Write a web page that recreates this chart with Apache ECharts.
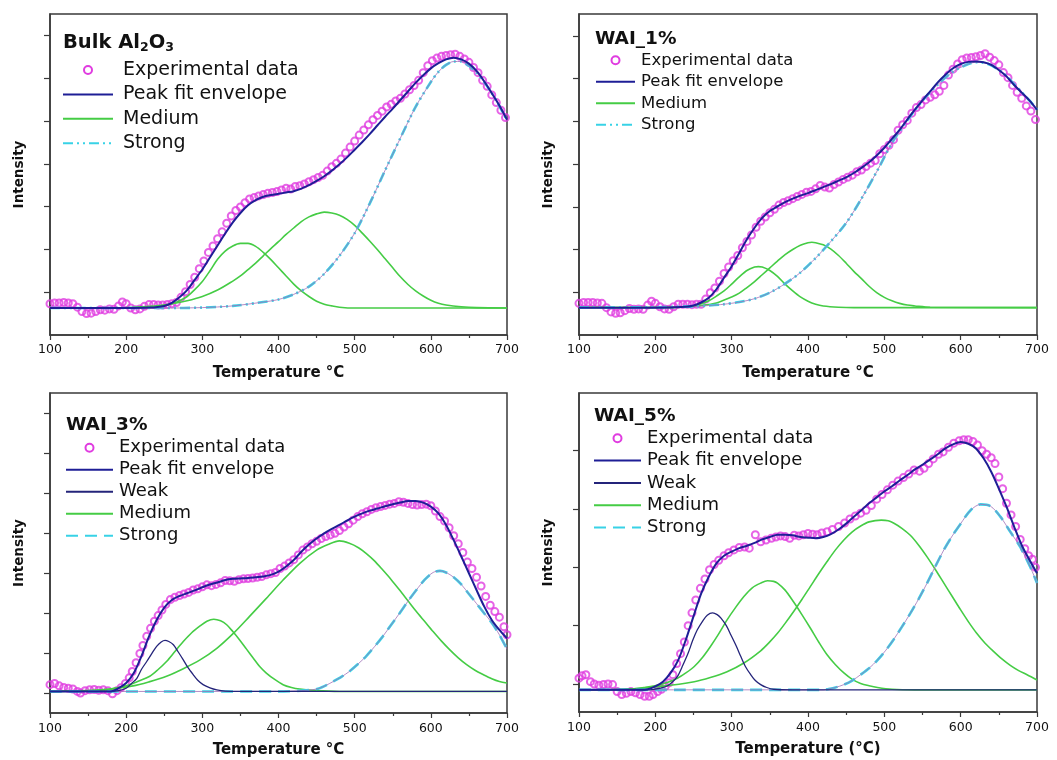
<!DOCTYPE html>
<html><head><meta charset="utf-8">
<script src="https://cdn.jsdelivr.net/npm/echarts@6/dist/echarts.min.js"></script>
<style>html,body{margin:0;padding:0;background:#fff}#c{width:1057px;height:760px}</style>
</head><body><div id="c"></div>
<script>
// ---------------- DATA (temperature °C, intensity in arbitrary units) ----------------
const xTicks = [100, 200, 300, 400, 500, 600, 700];
const panelTitles = ['Bulk Al2O3', 'WAI_1%', 'WAI_3%', 'WAI_5%'];
const xAxisNames = ['Temperature °C', 'Temperature °C', 'Temperature °C', 'Temperature (°C)'];
const legendNames = ['Experimental data', 'Peak fit envelope', 'Weak', 'Medium', 'Strong'];

// unlabeled y tick positions (arbitrary intensity units)
const p1YTicks = [0.37, 1.37, 2.37, 3.37, 4.37, 5.37, 6.37];
const p2YTicks = [0.36, 1.36, 2.36, 3.36, 4.36, 5.36, 6.36];
const p3YTicks = [-0.04, 0.96, 1.96, 2.96, 3.96, 4.96, 5.96, 6.96];
const p4YTicks = [0.1, 1.1, 2.1, 3.1, 4.1];

// ---- Bulk Al2O3 ----
const p1Exp = [[100,0.1],[106,0.12],[112,0.12],[118,0.13],[124,0.12],[130,0.1],[136,0.02],[142,-0.08],[148,-0.13],[154,-0.12],[160,-0.08],[166,-0.04],[172,-0.05],[178,-0.02],[184,-0.03],[190,0.05],[195,0.14],[200,0.1],[206,0.0],[212,-0.04],[218,-0.02],[224,0.04],[230,0.08],[236,0.08],[242,0.07],[248,0.07],[254,0.08],[260,0.1],[266,0.13],[272,0.25],[278,0.38],[284,0.55],[290,0.72],[296,0.92],[302,1.1],[308,1.3],[314,1.45],[320,1.62],[326,1.78],[332,1.98],[338,2.15],[344,2.28],[350,2.36],[356,2.46],[362,2.55],[368,2.58],[374,2.62],[380,2.65],[386,2.68],[392,2.7],[398,2.72],[404,2.76],[410,2.8],[416,2.78],[422,2.84],[428,2.86],[434,2.9],[440,2.95],[446,3.0],[452,3.05],[458,3.1],[464,3.2],[470,3.3],[476,3.38],[482,3.48],[488,3.62],[494,3.76],[500,3.9],[506,4.04],[512,4.16],[518,4.28],[524,4.4],[530,4.5],[536,4.6],[542,4.7],[548,4.76],[554,4.84],[560,4.9],[566,5.0],[572,5.1],[578,5.2],[584,5.32],[590,5.5],[596,5.66],[602,5.78],[608,5.84],[614,5.88],[620,5.9],[626,5.92],[632,5.93],[638,5.88],[644,5.82],[650,5.74],[656,5.62],[662,5.5],[668,5.32],[674,5.18],[680,4.98],[686,4.8],[692,4.62],[698,4.45]];
const p1Envelope = [[100,0],[200,0],[230,0.01],[250,0.05],[260,0.12],[270,0.25],[280,0.42],[290,0.66],[300,0.9],[310,1.18],[320,1.46],[330,1.74],[340,2.0],[350,2.22],[360,2.4],[370,2.52],[380,2.6],[390,2.64],[400,2.67],[410,2.7],[420,2.73],[430,2.79],[440,2.87],[450,2.97],[460,3.08],[470,3.21],[480,3.36],[490,3.52],[500,3.7],[510,3.88],[520,4.07],[530,4.27],[540,4.47],[550,4.66],[560,4.86],[570,5.06],[580,5.26],[590,5.44],[600,5.6],[610,5.72],[620,5.81],[630,5.85],[640,5.81],[650,5.71],[660,5.54],[670,5.3],[680,5.02],[690,4.73],[700,4.4]];
const p1Medium1 = [[100,0],[200,0],[230,0.01],[250,0.06],[260,0.1],[270,0.17],[280,0.27],[290,0.43],[300,0.62],[310,0.87],[320,1.14],[330,1.33],[340,1.45],[350,1.51],[360,1.51],[370,1.44],[380,1.3],[390,1.13],[400,0.94],[410,0.75],[420,0.56],[430,0.4],[440,0.27],[450,0.16],[460,0.09],[470,0.05],[480,0.02],[500,0],[700,0]];
const p1Medium2 = [[100,0],[200,0.01],[220,0.03],[240,0.05],[260,0.1],[280,0.17],[300,0.27],[320,0.42],[340,0.63],[350,0.75],[360,0.9],[370,1.05],[380,1.22],[390,1.39],[400,1.55],[410,1.72],[420,1.87],[430,2.02],[440,2.13],[450,2.2],[460,2.24],[470,2.22],[480,2.17],[490,2.07],[500,1.93],[510,1.75],[520,1.56],[530,1.36],[540,1.15],[550,0.94],[560,0.73],[570,0.55],[580,0.4],[590,0.28],[600,0.18],[610,0.11],[620,0.07],[640,0.03],[660,0.01],[700,0]];
const p1Strong = [[100,0],[250,0],[300,0.01],[340,0.05],[380,0.14],[400,0.2],[420,0.32],[440,0.5],[460,0.8],[480,1.22],[500,1.75],[520,2.45],[540,3.22],[560,3.97],[580,4.7],[600,5.28],[610,5.52],[620,5.68],[630,5.76],[640,5.76],[650,5.66],[660,5.5],[670,5.28],[680,5.02],[690,4.72],[700,4.38]];

// ---- WAI_1% ----
const p2Exp = [[100,0.1],[106,0.12],[112,0.12],[118,0.12],[124,0.11],[130,0.1],[136,0.0],[142,-0.1],[148,-0.13],[154,-0.12],[160,-0.07],[166,-0.02],[172,-0.04],[178,-0.03],[184,-0.04],[190,0.06],[195,0.15],[200,0.1],[206,0.02],[212,-0.03],[218,-0.04],[224,0.02],[230,0.08],[236,0.08],[242,0.08],[248,0.07],[254,0.08],[260,0.08],[266,0.2],[272,0.35],[278,0.46],[284,0.62],[290,0.8],[296,0.95],[302,1.1],[308,1.22],[314,1.4],[320,1.55],[326,1.7],[332,1.88],[338,2.02],[344,2.12],[350,2.22],[356,2.3],[362,2.4],[368,2.46],[374,2.5],[380,2.55],[386,2.6],[392,2.65],[398,2.7],[404,2.72],[410,2.78],[416,2.86],[422,2.82],[428,2.8],[434,2.88],[440,2.94],[446,3.0],[452,3.05],[458,3.1],[464,3.18],[470,3.22],[476,3.3],[482,3.38],[488,3.44],[494,3.6],[500,3.7],[506,3.8],[512,3.93],[518,4.15],[524,4.28],[530,4.38],[536,4.55],[542,4.68],[548,4.75],[554,4.86],[560,4.92],[566,4.98],[572,5.06],[578,5.2],[584,5.44],[590,5.58],[596,5.7],[602,5.8],[608,5.84],[614,5.85],[620,5.87],[626,5.9],[632,5.94],[638,5.86],[644,5.78],[650,5.68],[656,5.5],[662,5.38],[668,5.2],[674,5.04],[680,4.9],[686,4.72],[692,4.6],[698,4.4]];
const p2Envelope = [[100,0],[200,0],[240,0.02],[250,0.05],[260,0.12],[270,0.23],[280,0.43],[290,0.7],[300,0.97],[310,1.28],[320,1.6],[330,1.87],[340,2.1],[350,2.26],[360,2.37],[370,2.47],[380,2.55],[390,2.62],[400,2.68],[410,2.75],[420,2.82],[430,2.89],[440,2.97],[450,3.05],[460,3.15],[470,3.27],[480,3.4],[490,3.56],[500,3.74],[510,3.95],[520,4.16],[530,4.4],[540,4.63],[550,4.85],[560,5.06],[570,5.27],[580,5.45],[590,5.6],[600,5.7],[610,5.75],[620,5.76],[630,5.74],[640,5.68],[650,5.56],[660,5.41],[670,5.21],[680,5.03],[690,4.85],[700,4.63]];
const p2Medium1 = [[100,0],[220,0],[240,0.02],[250,0.04],[260,0.09],[270,0.16],[280,0.27],[290,0.39],[300,0.55],[310,0.72],[320,0.87],[330,0.95],[335,0.96],[340,0.95],[350,0.87],[360,0.73],[370,0.55],[380,0.39],[390,0.25],[400,0.15],[410,0.08],[420,0.04],[440,0.01],[460,0],[700,0]];
const p2Medium2 = [[100,0],[200,0.01],[240,0.02],[260,0.05],[280,0.11],[300,0.25],[310,0.34],[320,0.47],[330,0.61],[340,0.77],[350,0.93],[360,1.09],[370,1.24],[380,1.36],[390,1.46],[400,1.52],[405,1.53],[410,1.52],[420,1.47],[430,1.37],[440,1.22],[450,1.04],[460,0.85],[470,0.68],[480,0.5],[490,0.35],[500,0.24],[510,0.16],[520,0.1],[530,0.06],[540,0.04],[560,0.01],[700,0]];
const p2Strong = [[100,0],[200,0.01],[250,0.03],[270,0.05],[290,0.08],[310,0.13],[330,0.21],[350,0.35],[370,0.56],[390,0.82],[410,1.16],[430,1.55],[450,1.98],[470,2.55],[490,3.18],[510,3.85],[530,4.38],[550,4.84],[570,5.22],[590,5.52],[610,5.7],[620,5.74],[630,5.73],[640,5.67],[650,5.56],[660,5.42],[670,5.23],[680,5.04],[690,4.85],[700,4.63]];

// ---- WAI_3% ----
const p3Exp = [[100,0.17],[106,0.2],[112,0.14],[118,0.1],[124,0.08],[130,0.06],[136,0.0],[140,-0.04],[146,0.02],[152,0.04],[158,0.05],[164,0.03],[170,0.04],[176,0.02],[182,-0.06],[188,0.02],[193,0.09],[199,0.2],[204,0.34],[208,0.5],[213,0.72],[218,0.95],[222,1.15],[227,1.38],[232,1.58],[237,1.76],[242,1.9],[247,2.04],[252,2.18],[258,2.3],[264,2.36],[270,2.4],[276,2.44],[282,2.48],[288,2.54],[294,2.57],[300,2.62],[306,2.67],[312,2.65],[318,2.68],[324,2.72],[330,2.78],[336,2.77],[342,2.76],[348,2.8],[354,2.82],[360,2.83],[366,2.84],[372,2.86],[378,2.88],[384,2.92],[390,2.95],[396,2.98],[402,3.08],[408,3.14],[414,3.22],[420,3.3],[426,3.42],[432,3.54],[438,3.62],[444,3.7],[450,3.76],[456,3.83],[462,3.88],[468,3.92],[474,3.96],[480,4.03],[486,4.12],[492,4.2],[498,4.29],[504,4.38],[510,4.45],[516,4.5],[522,4.56],[528,4.6],[534,4.63],[540,4.66],[546,4.69],[552,4.71],[558,4.75],[564,4.74],[570,4.71],[576,4.68],[582,4.67],[588,4.68],[594,4.69],[600,4.65],[606,4.52],[612,4.38],[618,4.27],[624,4.1],[630,3.9],[636,3.7],[642,3.48],[648,3.24],[654,3.08],[660,2.86],[666,2.64],[672,2.38],[678,2.16],[684,2.0],[690,1.86],[696,1.62],[700,1.42]];
const p3Envelope = [[100,0],[180,0],[190,0.08],[200,0.21],[210,0.46],[220,0.88],[230,1.38],[240,1.79],[250,2.1],[260,2.29],[270,2.39],[280,2.46],[290,2.53],[300,2.61],[310,2.68],[320,2.73],[330,2.79],[340,2.82],[350,2.83],[360,2.84],[370,2.86],[380,2.88],[390,2.92],[400,3.0],[410,3.13],[420,3.29],[430,3.5],[440,3.68],[450,3.83],[460,3.96],[470,4.07],[480,4.17],[490,4.28],[500,4.38],[510,4.46],[520,4.53],[530,4.58],[540,4.64],[550,4.69],[560,4.73],[570,4.77],[580,4.77],[590,4.73],[600,4.63],[610,4.46],[620,4.17],[630,3.79],[640,3.38],[650,2.96],[660,2.54],[670,2.13],[680,1.79],[690,1.54],[700,1.33]];
const p3Weak = [[100,0],[180,0],[190,0.02],[200,0.08],[207,0.2],[214,0.33],[220,0.55],[227,0.75],[234,0.96],[240,1.13],[246,1.24],[251,1.28],[256,1.25],[262,1.17],[268,1.0],[275,0.79],[281,0.6],[288,0.42],[294,0.28],[301,0.17],[310,0.09],[319,0.04],[330,0.01],[350,0],[700,0]];
const p3Medium1 = [[100,0],[140,0.01],[166,0.03],[180,0.06],[200,0.14],[215,0.25],[231,0.38],[242,0.55],[253,0.75],[264,1.0],[275,1.25],[286,1.47],[297,1.64],[306,1.76],[315,1.81],[324,1.77],[332,1.67],[340,1.5],[349,1.29],[358,1.06],[367,0.83],[375,0.63],[384,0.46],[395,0.3],[406,0.17],[417,0.1],[428,0.06],[450,0.02],[480,0],[700,0]];
const p3Medium2 = [[100,0],[166,0.04],[209,0.14],[230,0.24],[253,0.38],[275,0.57],[297,0.79],[319,1.08],[341,1.46],[362,1.88],[384,2.33],[406,2.79],[428,3.21],[450,3.54],[465,3.68],[480,3.77],[493,3.71],[505,3.6],[515,3.46],[526,3.27],[537,3.04],[548,2.8],[559,2.54],[570,2.27],[581,2.0],[592,1.75],[603,1.5],[614,1.26],[625,1.04],[636,0.84],[647,0.67],[658,0.53],[669,0.42],[680,0.32],[690,0.25],[700,0.21]];
const p3Strong = [[100,0],[400,0],[430,0.02],[450,0.06],[461,0.14],[472,0.25],[483,0.37],[493,0.5],[504,0.68],[515,0.88],[526,1.12],[537,1.38],[548,1.67],[559,1.96],[570,2.26],[581,2.54],[592,2.8],[603,2.98],[612,3.02],[620,2.98],[630,2.86],[640,2.68],[650,2.44],[660,2.2],[670,1.96],[680,1.72],[690,1.42],[700,1.06]];

// ---- WAI_5% ----
const p4Exp = [[100,0.2],[104,0.24],[109,0.26],[115,0.14],[120,0.1],[126,0.08],[132,0.09],[138,0.1],[144,0.09],[150,-0.03],[156,-0.08],[162,-0.06],[168,-0.03],[174,-0.05],[180,-0.08],[186,-0.11],[192,-0.11],[197,-0.08],[203,-0.03],[208,0.01],[213,0.06],[218,0.12],[223,0.26],[228,0.45],[233,0.62],[238,0.82],[243,1.1],[248,1.32],[253,1.54],[259,1.74],[265,1.9],[271,2.06],[277,2.15],[283,2.22],[290,2.3],[296,2.35],[303,2.4],[310,2.44],[317,2.45],[323,2.43],[331,2.66],[338,2.54],[345,2.57],[352,2.6],[358,2.62],[364,2.64],[370,2.63],[376,2.6],[382,2.65],[388,2.64],[394,2.66],[400,2.68],[406,2.67],[412,2.66],[418,2.69],[425,2.71],[432,2.75],[440,2.8],[448,2.86],[455,2.93],[462,2.98],[469,3.03],[476,3.08],[483,3.16],[490,3.27],[497,3.35],[504,3.43],[511,3.51],[518,3.58],[525,3.64],[532,3.7],[539,3.77],[546,3.75],[552,3.8],[558,3.88],[564,3.96],[571,4.04],[577,4.08],[584,4.16],[591,4.23],[598,4.27],[604,4.29],[610,4.29],[616,4.26],[622,4.2],[628,4.1],[634,4.04],[640,3.98],[645,3.88],[650,3.65],[655,3.45],[660,3.2],[666,3.0],[672,2.8],[678,2.58],[684,2.42],[689,2.3],[694,2.24],[698,2.1]];
const p4Envelope = [[100,0],[180,0],[190,0.01],[200,0.06],[210,0.14],[220,0.29],[230,0.51],[240,0.86],[250,1.26],[260,1.65],[270,1.94],[280,2.17],[290,2.3],[300,2.37],[310,2.43],[320,2.47],[330,2.52],[340,2.58],[350,2.62],[360,2.66],[370,2.66],[380,2.65],[390,2.62],[400,2.61],[410,2.6],[420,2.62],[430,2.67],[440,2.75],[450,2.85],[460,2.97],[470,3.08],[480,3.2],[490,3.3],[500,3.4],[510,3.49],[520,3.59],[530,3.68],[540,3.78],[550,3.86],[560,3.95],[570,4.04],[580,4.14],[590,4.21],[600,4.25],[610,4.22],[620,4.14],[630,3.97],[640,3.74],[650,3.45],[660,3.14],[670,2.8],[680,2.48],[690,2.23],[700,2.0]];
const p4Weak = [[100,0],[190,0],[198,0.01],[207,0.03],[216,0.07],[222,0.13],[229,0.23],[236,0.42],[243,0.63],[249,0.85],[255,1.03],[262,1.18],[268,1.28],[275,1.32],[281,1.29],[286,1.23],[293,1.1],[299,0.94],[306,0.75],[312,0.57],[318,0.4],[325,0.26],[331,0.16],[338,0.09],[346,0.04],[355,0.01],[380,0],[700,0]];
const p4Medium1 = [[100,0],[163,0.01],[185,0.04],[207,0.09],[229,0.2],[240,0.29],[251,0.4],[262,0.56],[272,0.74],[283,0.96],[294,1.2],[305,1.41],[316,1.6],[327,1.75],[338,1.83],[347,1.87],[355,1.86],[360,1.83],[370,1.71],[381,1.51],[392,1.29],[403,1.06],[414,0.82],[425,0.6],[436,0.43],[447,0.29],[458,0.18],[469,0.11],[480,0.07],[491,0.04],[510,0.01],[540,0],[700,0]];
const p4Medium2 = [[100,0],[163,0.01],[207,0.06],[251,0.14],[272,0.21],[294,0.31],[316,0.46],[338,0.67],[349,0.81],[360,0.97],[370,1.14],[381,1.34],[392,1.55],[403,1.77],[414,1.99],[425,2.2],[436,2.4],[447,2.57],[458,2.71],[469,2.81],[480,2.88],[496,2.91],[505,2.9],[512,2.86],[523,2.77],[534,2.65],[545,2.48],[556,2.28],[567,2.06],[578,1.83],[589,1.6],[600,1.37],[610,1.17],[621,0.97],[632,0.8],[643,0.66],[654,0.53],[665,0.42],[676,0.33],[687,0.26],[700,0.17]];
const p4Strong = [[100,0],[420,0],[425,0.01],[436,0.04],[447,0.09],[458,0.16],[469,0.26],[480,0.37],[491,0.51],[502,0.68],[512,0.86],[523,1.08],[534,1.31],[545,1.56],[556,1.83],[567,2.12],[578,2.4],[589,2.64],[600,2.85],[613,3.08],[626,3.18],[639,3.15],[652,2.97],[665,2.71],[678,2.45],[691,2.11],[700,1.83]];

// ---------------- LAYOUT / STYLE ----------------
const FONT = 'DejaVu Sans';
const COL = { exp: '#e03ce0', env: '#1e1e96', weak: '#24247a', med: '#45cc45', strong: '#38d2e6', fit: '#a070b8', axis: '#3a3a3a', text: '#111' };

const panels = [
  { key: 'p1', grid: { left: 50, top: 14, width: 457, height: 321 }, yMin: -0.63, yMax: 6.87, yTicks: p1YTicks,
    exp: p1Exp, env: p1Envelope, weak: null, med: [p1Medium1, p1Medium2], strong: p1Strong, strongDash: [10, 4, 2, 4, 2, 4],
    nameGap: 31, labelMargin: 8, legend: { left: 62, top: 60.5, w: 50, gap: 5.4, fs: 19, pad: 5 },
    title: { left: 63, top: 30.5 } },
  { key: 'p2', grid: { left: 579, top: 14, width: 458, height: 321 }, yMin: -0.64, yMax: 6.87, yTicks: p2YTicks,
    exp: p2Exp, env: p2Envelope, weak: null, med: [p2Medium1, p2Medium2], strong: p2Strong, strongDash: [10, 4, 2, 4, 2, 4],
    nameGap: 31, labelMargin: 8, legend: { left: 595, top: 51.8, w: 39, gap: 4.5, fs: 16.5, pad: 1 },
    title: { left: 595, top: 29.5, fs: 18.5 } },
  { key: 'p3', grid: { left: 50, top: 393, width: 457, height: 320 }, yMin: -0.54, yMax: 7.475, yTicks: p3YTicks,
    exp: p3Exp, env: p3Envelope, weak: p3Weak, med: [p3Medium1, p3Medium2], strong: p3Strong, strongDash: [12, 7],
    nameGap: 30, labelMargin: 9, legend: { left: 65, top: 438.7, w: 47, gap: 4, fs: 18, pad: 1 },
    title: { left: 66, top: 415.5, fs: 18.5 } },
  { key: 'p4', grid: { left: 579, top: 393, width: 458, height: 319 }, yMin: -0.38, yMax: 5.09, yTicks: p4YTicks,
    exp: p4Exp, env: p4Envelope, weak: p4Weak, med: [p4Medium1, p4Medium2], strong: p4Strong, strongDash: [12, 7],
    nameGap: 30, labelMargin: 9, legend: { left: 593, top: 429.3, w: 47, gap: 4.3, fs: 18, pad: 1 },
    title: { left: 594, top: 407, fs: 18.5 } }
];

const grids = [], xAxes = [], yAxes = [], series = [], legends = [], titles = [];

panels.forEach((p, i) => {
  grids.push(Object.assign({ show: true, borderColor: COL.axis, borderWidth: 1.5, backgroundColor: '#fff', containLabel: false }, p.grid));
  xAxes.push({
    gridIndex: i, type: 'value', min: xTicks[0], max: xTicks[xTicks.length - 1], interval: xTicks[1] - xTicks[0],
    axisLine: { show: true, onZero: false, lineStyle: { color: COL.axis, width: 1.5 } },
    axisTick: { show: true, length: 5, lineStyle: { color: COL.axis, width: 1.2 } },
    minorTick: { show: true, splitNumber: 2, length: 3, lineStyle: { color: COL.axis, width: 1.2 } },
    axisLabel: { fontFamily: FONT, fontSize: 12.5, color: COL.text, margin: p.labelMargin },
    splitLine: { show: false }, minorSplitLine: { show: false },
    name: xAxisNames[i], nameLocation: 'middle', nameGap: p.nameGap,
    nameTextStyle: { fontFamily: FONT, fontWeight: 'bold', fontSize: 15, color: COL.text }
  });
  yAxes.push({
    gridIndex: i, type: 'value', min: p.yMin, max: p.yMax,
    axisLine: { show: true, onZero: false, lineStyle: { color: COL.axis, width: 1.5 } },
    axisTick: { show: true, length: 6, customValues: p.yTicks, lineStyle: { color: COL.axis, width: 1.2 } },
    axisLabel: { show: false }, splitLine: { show: false },
    name: 'Intensity', nameLocation: 'middle', nameGap: 24,
    nameTextStyle: { fontFamily: FONT, fontWeight: 'bold', fontSize: 13.5, color: COL.text }
  });
  const k = p.key + '|';
  const common = { xAxisIndex: i, yAxisIndex: i, silent: true, animation: false };
  series.push(Object.assign({ type: 'scatter', name: k + legendNames[0], data: p.exp, symbol: 'circle', symbolSize: 7,
    itemStyle: { color: 'rgba(0,0,0,0)', borderColor: COL.exp, borderWidth: 2 }, z: 2 }, common));
  p.med.forEach((m, j) => {
    series.push(Object.assign({ type: 'line', name: k + legendNames[3] + (j ? ' ' + (j + 1) : ''), data: m, symbol: 'none', smooth: 0.3,
      lineStyle: { color: COL.med, width: 1.6 }, itemStyle: { color: COL.med }, z: 3 }, common));
  });
  series.push(Object.assign({ type: 'line', name: k + legendNames[4], data: p.strong, symbol: 'none', smooth: 0.3,
    lineStyle: { color: COL.strong, width: 2.6, type: p.strongDash }, itemStyle: { color: COL.strong }, z: 4 }, common));
  series.push(Object.assign({ type: 'line', name: k + 'Strong fit', data: p.strong, symbol: 'none', smooth: 0.3,
    lineStyle: { color: COL.fit, width: 0.8 }, itemStyle: { color: COL.fit }, z: 5 }, common));
  if (p.weak) {
    series.push(Object.assign({ type: 'line', name: k + legendNames[2], data: p.weak, symbol: 'none', smooth: 0.3,
      lineStyle: { color: COL.weak, width: 1.3 }, itemStyle: { color: COL.weak }, z: 5 }, common));
  }
  series.push(Object.assign({ type: 'line', name: k + legendNames[1], data: p.env, symbol: 'none', smooth: 0.3,
    lineStyle: { color: COL.env, width: 2 }, itemStyle: { color: COL.env }, z: 6 }, common));

  const items = [{ name: k + legendNames[0], itemStyle: { color: 'rgba(0,0,0,0)', borderColor: COL.exp, borderWidth: 2, opacity: 1 } },
                 { name: k + legendNames[1] }];
  if (p.weak) items.push({ name: k + legendNames[2] });
  items.push({ name: k + legendNames[3] }, { name: k + legendNames[4] });
  legends.push({
    orient: 'vertical', left: p.legend.left, top: p.legend.top, padding: 0,
    itemWidth: p.legend.w, itemHeight: 8, itemGap: p.legend.gap, selectedMode: false,
    data: items, formatter: n => n.split('|')[1],
    itemStyle: { color: 'rgba(0,0,0,0)', borderColor: 'rgba(0,0,0,0)', borderWidth: 0, opacity: 0 },
    lineStyle: { width: 2 },
    textStyle: { fontFamily: FONT, fontSize: p.legend.fs, color: COL.text, padding: [0, 0, 0, p.legend.pad] }
  });
});

// panel titles
titles.push({ left: panels[0].title.left, top: panels[0].title.top, padding: 0,
  text: '{a|Bulk Al}{b|2}{a|O}{b|3}',
  textStyle: { rich: {
    a: { fontFamily: FONT, fontWeight: 'bold', fontSize: 19.5, color: COL.text, lineHeight: 24, verticalAlign: 'middle' },
    b: { fontFamily: FONT, fontWeight: 'bold', fontSize: 12.5, color: COL.text, lineHeight: 24, verticalAlign: 'bottom' } } } });
for (let i = 1; i < 4; i++) {
  titles.push({ left: panels[i].title.left, top: panels[i].title.top, padding: 0, text: panelTitles[i],
    textStyle: { fontFamily: FONT, fontWeight: 'bold', fontSize: panels[i].title.fs, color: COL.text } });
}

const chart = echarts.init(document.getElementById('c'), null, { renderer: 'canvas' });
chart.setOption({
  backgroundColor: '#fff', animation: false,
  title: titles, grid: grids, xAxis: xAxes, yAxis: yAxes, legend: legends, series: series
});
</script></body></html>
